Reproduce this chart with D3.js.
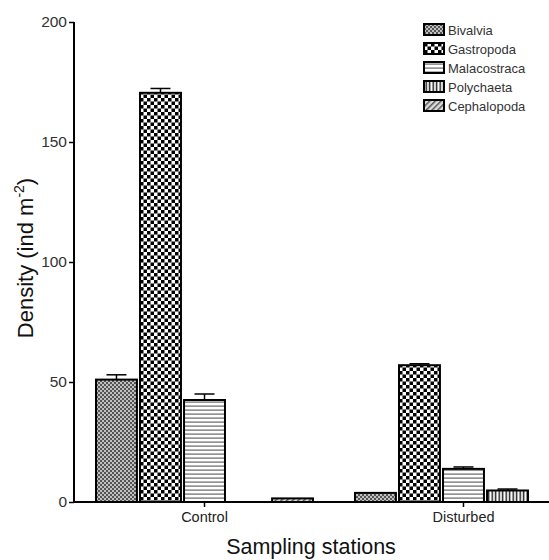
<!DOCTYPE html>
<html>
<head>
<meta charset="utf-8">
<script src="https://cdn.jsdelivr.net/npm/d3@7"></script>
<style>
  body { margin: 0; background: #fff; }
  text { font-family: "Liberation Sans", Arial, sans-serif; }
</style>
</head>
<body>
<div id="chart"></div>
<script>
// data
const stations = ["Control", "Disturbed"];
const taxa = ["Bivalvia", "Gastropoda", "Malacostraca", "Polychaeta", "Cephalopoda"];
const controlMean = [51, 170.5, 42.5, 0, 1.5];
const controlErr = [2, 1.8, 2.5, 0, 0];
const disturbedMean = [3.8, 57, 13.8, 4.8, 0];
const disturbedErr = [0, 0.6, 0.8, 0.6, 0];
const yTicks = [0, 50, 100, 150, 200];

const W = 549, H = 560;
const svg = d3.select("#chart").append("svg").attr("width", W).attr("height", H);

// fill patterns, one per taxon
const defs = svg.append("defs");
let p = defs.append("pattern").attr("id", "pat0").attr("patternUnits", "userSpaceOnUse").attr("width", 4).attr("height", 4);
p.append("rect").attr("width", 4).attr("height", 4).attr("fill", "#c0c0c0");
p.append("rect").attr("width", 2).attr("height", 2).attr("fill", "#555");
p.append("rect").attr("x", 2).attr("y", 2).attr("width", 2).attr("height", 2).attr("fill", "#555");

p = defs.append("pattern").attr("id", "pat1").attr("patternUnits", "userSpaceOnUse").attr("width", 7).attr("height", 7);
p.append("rect").attr("width", 7).attr("height", 7).attr("fill", "#fff");
p.append("rect").attr("width", 3.5).attr("height", 3.5).attr("fill", "#000");
p.append("rect").attr("x", 3.5).attr("y", 3.5).attr("width", 3.5).attr("height", 3.5).attr("fill", "#000");

p = defs.append("pattern").attr("id", "pat2").attr("patternUnits", "userSpaceOnUse").attr("width", 4).attr("height", 4);
p.append("rect").attr("width", 4).attr("height", 4).attr("fill", "#fff");
p.append("rect").attr("y", 1.5).attr("width", 4).attr("height", 1.2).attr("fill", "#666");

p = defs.append("pattern").attr("id", "pat3").attr("patternUnits", "userSpaceOnUse").attr("width", 3.5).attr("height", 3.5);
p.append("rect").attr("width", 3.5).attr("height", 3.5).attr("fill", "#fff");
p.append("rect").attr("x", 1.5).attr("width", 1.4).attr("height", 3.5).attr("fill", "#111");

p = defs.append("pattern").attr("id", "pat4").attr("patternUnits", "userSpaceOnUse").attr("width", 4).attr("height", 4)
  .attr("patternTransform", "rotate(45)");
p.append("rect").attr("width", 4).attr("height", 4).attr("fill", "#ddd");
p.append("rect").attr("width", 1.5).attr("height", 4).attr("fill", "#555");

const y = d3.scaleLinear().domain([0, 200]).range([502, 22]);
const x0 = d3.scaleBand().domain(stations).range([96, 572]).paddingInner(0.162).paddingOuter(0);
const x1 = d3.scaleBand().domain(taxa).range([0, x0.bandwidth()]).paddingInner(0.07).paddingOuter(0);

const rows = [];
stations.forEach((s, i) => {
  const m = i === 0 ? controlMean : disturbedMean;
  const e = i === 0 ? controlErr : disturbedErr;
  taxa.forEach((t, j) => rows.push({ station: s, taxon: t, k: j, v: m[j], err: e[j] }));
});

const bars = svg.append("g");
const shown = rows.filter(d => d.v > 0);

// error bars (upper only)
bars.selectAll("g.err").data(shown.filter(d => d.err > 0)).enter().append("g").attr("class", "err")
  .each(function(d) {
    const cx = x0(d.station) + x1(d.taxon) + x1.bandwidth() / 2;
    const g = d3.select(this);
    g.append("line").attr("x1", cx).attr("x2", cx).attr("y1", y(d.v)).attr("y2", y(d.v + d.err))
      .attr("stroke", "#000").attr("stroke-width", 1.5);
    g.append("line").attr("x1", cx - 10).attr("x2", cx + 10).attr("y1", y(d.v + d.err)).attr("y2", y(d.v + d.err))
      .attr("stroke", "#000").attr("stroke-width", 1.5);
  });

bars.selectAll("rect.bar").data(shown).enter().append("rect").attr("class", "bar")
  .attr("x", d => x0(d.station) + x1(d.taxon))
  .attr("y", d => y(d.v))
  .attr("width", x1.bandwidth())
  .attr("height", d => y(0) - y(d.v))
  .attr("fill", d => "url(#pat" + d.k + ")")
  .attr("stroke", "#000").attr("stroke-width", 2);

// y axis
const yAxis = svg.append("g").attr("transform", "translate(74,0)")
  .call(d3.axisLeft(y).tickValues(yTicks).tickSize(5).tickPadding(2));
yAxis.select(".domain").attr("stroke-width", 2).attr("d", "M0," + y(200) + "V" + y(0));
yAxis.selectAll(".tick line").attr("stroke-width", 1.5);
yAxis.selectAll(".tick text").attr("font-size", 15.5).attr("fill", "#333")
  .style("font-family", "'Liberation Sans', Arial, sans-serif");

// x axis
const xAxis = svg.append("g").attr("transform", "translate(0,502)")
  .call(d3.axisBottom(x0).tickSize(5).tickPadding(5));
xAxis.selectAll(".tick").attr("transform", d => "translate(" + (x0(d) + x0.bandwidth() / 2) + ",0)");
xAxis.select(".domain").attr("stroke-width", 2).attr("d", "M73,0H" + W);
xAxis.selectAll(".tick line").attr("stroke-width", 1.5);
xAxis.selectAll(".tick text").attr("font-size", 14.5).attr("fill", "#222")
  .style("font-family", "'Liberation Sans', Arial, sans-serif");

// titles
svg.append("text").attr("transform", "translate(33,258) rotate(-90)")
  .attr("text-anchor", "middle").attr("font-size", 22).attr("fill", "#111")
  .call(t => {
    t.append("tspan").text("Density (ind m");
    t.append("tspan").attr("font-size", 14).attr("dy", -9).text("-2");
    t.append("tspan").attr("dy", 9).text(")");
  });
svg.append("text").attr("x", 311).attr("y", 554).attr("text-anchor", "middle")
  .attr("font-size", 21.5).attr("fill", "#111").text("Sampling stations");

// legend
const leg = svg.append("g").attr("transform", "translate(424,24)");
const li = leg.selectAll("g").data(taxa).enter().append("g")
  .attr("transform", (d, i) => "translate(0," + (i * 19) + ")");
li.append("rect").attr("width", 20).attr("height", 11)
  .attr("fill", (d, i) => "url(#pat" + i + ")").attr("stroke", "#000").attr("stroke-width", 2);
li.append("text").attr("x", 24).attr("y", 10.5).attr("font-size", 13).attr("fill", "#333").text(d => d);
</script>
</body>
</html>
